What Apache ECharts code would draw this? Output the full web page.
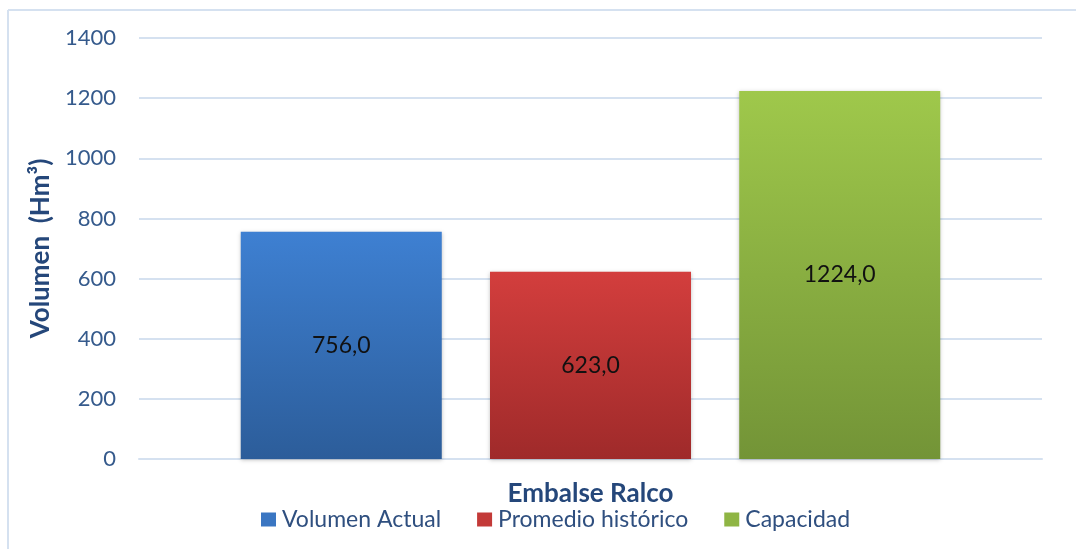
<!DOCTYPE html>
<html><head><meta charset="utf-8">
<script src="https://cdn.jsdelivr.net/npm/echarts@6/dist/echarts.min.js"></script>
<style>html,body{margin:0;padding:0;background:#fff}#c{width:1076px;height:549px}</style>
</head><body><div id="c"></div>
<script>
const categories = ['Embalse Ralco'];
const seriesNames = ['Volumen Actual', 'Promedio histórico', 'Capacidad'];
const volumenActual = [756.0];
const promedioHistorico = [623.0];
const capacidad = [1224.0];
const yTicks = [0, 200, 400, 600, 800, 1000, 1200, 1400];

const FONT = 'Lato, "Noto Sans", sans-serif';
function grad(top, bottom) {
  return new echarts.graphic.LinearGradient(0, 0, 0, 1, [{offset: 0, color: top}, {offset: 1, color: bottom}]);
}
const colors = [grad('#3e80d2', '#2c5d9a'), grad('#d33e3d', '#9f2a2a'), grad('#9fc84b', '#739437')];
const legendColors = ['#3a76c2', '#c33a38', '#8fb544'];
const dataSets = [volumenActual, promedioHistorico, capacidad];

const chart = echarts.init(document.getElementById('c'));
chart.setOption({
  animation: false,
  grid: {left: 139, right: 34, top: 38, bottom: 90, containLabel: false},
  legend: {
    bottom: 13, left: 256, itemWidth: 15, itemHeight: 14, itemGap: 36,
    icon: 'rect',
    textStyle: {fontFamily: FONT, fontSize: 23, color: '#2f4f7f', padding: [0, 0, 0, 1]},
    data: seriesNames.map((n, i) => ({name: n, itemStyle: {color: legendColors[i]}}))
  },
  xAxis: {
    type: 'category', data: categories,
    axisLine: {lineStyle: {color: '#d5e1f0', width: 2}},
    axisTick: {show: false},
    axisLabel: {fontFamily: FONT, fontSize: 26, fontWeight: 'bold', color: '#25477a', margin: 22}
  },
  yAxis: {
    type: 'value', min: 0, max: 1400, interval: 200,
    name: 'Volumen  (Hm³)', nameLocation: 'middle', nameGap: 83, nameRotate: 90,
    nameTextStyle: {fontFamily: FONT, fontSize: 26, fontWeight: 'bold', color: '#25477a'},
    axisLine: {show: false}, axisTick: {show: false},
    axisLabel: {fontFamily: FONT, fontSize: 22, color: '#355a8c', margin: 23,
      formatter: v => yTicks.includes(v) ? String(v) : ''},
    splitLine: {lineStyle: {color: '#d5e1f0', width: 2}}
  },
  series: dataSets.map((d, i) => ({
    name: seriesNames[i], type: 'bar', data: d,
    barWidth: 201, barGap: '24%',
    itemStyle: {color: colors[i], shadowColor: 'rgba(0,0,0,0.25)', shadowBlur: 4, shadowOffsetY: 1},
    label: {show: true, position: 'inside', fontFamily: FONT, fontSize: 23, color: '#111',
      formatter: p => p.value.toFixed(1).replace('.', ',')}
  })),
  graphic: [
    {type: 'line', shape: {x1: 8, y1: 10, x2: 1076, y2: 10}, style: {stroke: '#d5e1f0', lineWidth: 2}, silent: true},
    {type: 'line', shape: {x1: 8, y1: 10, x2: 8, y2: 549}, style: {stroke: '#d5e1f0', lineWidth: 2}, silent: true}
  ]
});
</script></body></html>
